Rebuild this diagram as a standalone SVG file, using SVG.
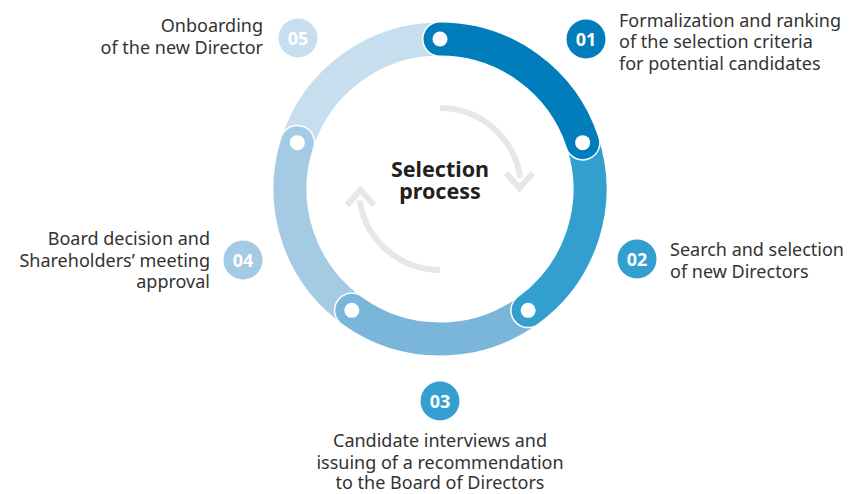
<svg xmlns="http://www.w3.org/2000/svg" width="856" height="494" viewBox="0 0 856 494">
<style>
.lbl{font-family:"Noto Sans","Open Sans","DejaVu Sans",sans-serif;font-size:18px;fill:#333333}
.num{font-family:"Noto Sans","Open Sans","DejaVu Sans",sans-serif;font-size:18px;font-weight:bold;fill:#ffffff;text-anchor:middle}
.title{font-family:"Noto Sans","Open Sans","DejaVu Sans",sans-serif;font-size:21.5px;font-weight:bold;fill:#231f20;text-anchor:middle}
.under{fill:none;stroke:#ffffff;stroke-width:36;stroke-linecap:round}
.seg{fill:none;stroke-width:33;stroke-linecap:round}
.dot{fill:#ffffff}
.garrow{fill:none;stroke:#e6e7e8;stroke-width:6}
</style>
<rect width="856" height="494" fill="#ffffff"/>
<g id="connectors">
  <path class="under" d="M297.34 142.65 A150 150 0 0 1 440 39"/>
  <path class="seg" stroke="#c6deee" d="M297.34 142.65 A150 150 0 0 1 440 39"/>
  <path class="under" d="M351.83 310.35 A150 150 0 0 1 297.34 142.65"/>
  <path class="seg" stroke="#a4cae4" d="M351.83 310.35 A150 150 0 0 1 297.34 142.65"/>
  <path class="under" d="M528.17 310.35 A150 150 0 0 1 351.83 310.35"/>
  <path class="seg" stroke="#7ab5da" d="M528.17 310.35 A150 150 0 0 1 351.83 310.35"/>
  <path class="under" d="M582.66 142.65 A150 150 0 0 1 528.17 310.35"/>
  <path class="seg" stroke="#339fcf" d="M582.66 142.65 A150 150 0 0 1 528.17 310.35"/>
  <path class="under" d="M440 39 A150 150 0 0 1 582.66 142.65"/>
  <path class="seg" stroke="#027dbc" d="M440 39 A150 150 0 0 1 582.66 142.65"/>
  <circle class="dot" cx="440" cy="39" r="7.5"/>
  <circle class="dot" cx="582.66" cy="142.65" r="7.5"/>
  <circle class="dot" cx="528.17" cy="310.35" r="7.5"/>
  <circle class="dot" cx="351.83" cy="310.35" r="7.5"/>
  <circle class="dot" cx="297.34" cy="142.65" r="7.5"/>
  <path class="garrow" d="M440 108 A81 81 0 0 1 520.2 177.7"/>
  <path class="garrow" d="M506 173 L519.5 188 L533 173"/>
  <path class="garrow" d="M440 270 A81 81 0 0 1 359.8 200.3"/>
  <path class="garrow" d="M347 205 L360.5 190 L374 205"/>
</g>
<g id="center">
  <text class="title"><tspan x="440" y="177">Selection</tspan><tspan x="440" y="198.5">process</tspan></text>
</g>
<g id="node01">
  <circle cx="586" cy="39" r="19.5" fill="#027dbc"/>
  <text class="num" x="586" y="45.5">01</text>
  <text class="lbl"><tspan x="619" y="26.5">Formalization and ranking</tspan><tspan x="619" y="48">of the selection criteria</tspan><tspan x="619" y="69.5">for potential candidates</tspan></text>
</g>
<g id="node02">
  <circle cx="637" cy="259" r="19.5" fill="#339fcf"/>
  <text class="num" x="637" y="265.5">02</text>
  <text class="lbl"><tspan x="670" y="256">Search and selection</tspan><tspan x="670" y="277.5">of new Directors</tspan></text>
</g>
<g id="node03">
  <circle cx="440" cy="401" r="19.5" fill="#35a0d0"/>
  <text class="num" x="440" y="407.5">03</text>
  <text class="lbl" text-anchor="middle"><tspan x="440" y="447">Candidate interviews and</tspan><tspan x="440" y="468.5">issuing of a recommendation</tspan><tspan x="440" y="489">to the Board of Directors</tspan></text>
</g>
<g id="node04">
  <circle cx="243" cy="260" r="19.5" fill="#a4cae4"/>
  <text class="num" x="243" y="266.5">04</text>
  <text class="lbl" text-anchor="end"><tspan x="210" y="245">Board decision and</tspan><tspan x="210" y="266.5">Shareholders’ meeting</tspan><tspan x="210" y="287.5">approval</tspan></text>
</g>
<g id="node05">
  <circle cx="298" cy="38" r="19.5" fill="#c6deee"/>
  <text class="num" x="298" y="44.5">05</text>
  <text class="lbl" text-anchor="end"><tspan x="263" y="32">Onboarding</tspan><tspan x="263" y="53.5">of the new Director</tspan></text>
</g>
</svg>
